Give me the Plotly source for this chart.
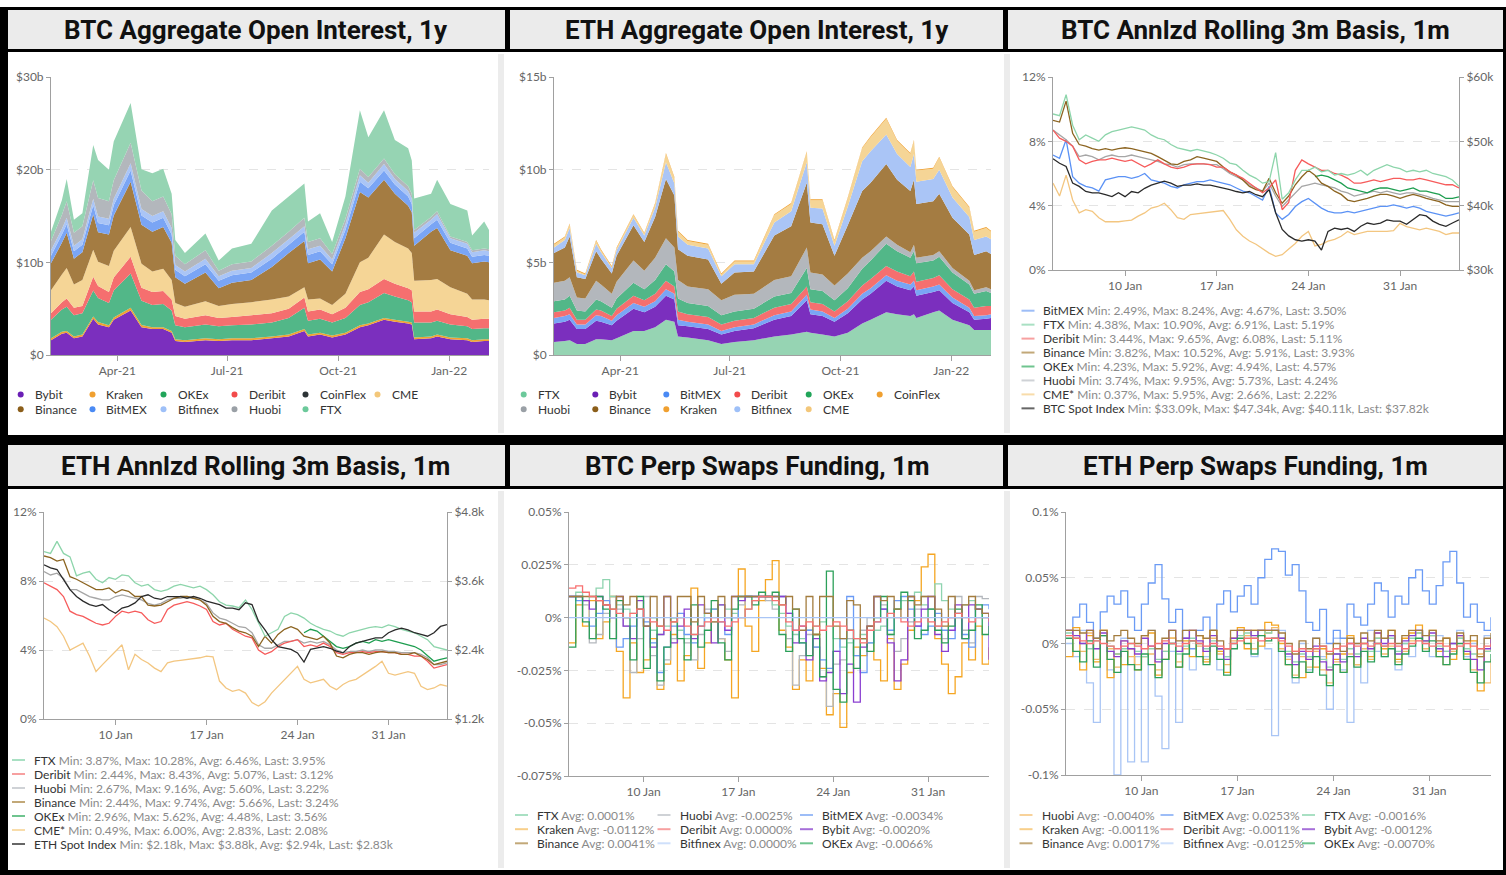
import plotly.graph_objects as go
import pandas as pd

W, H = 1506, 875

# ======================= DATA =======================
# ---- Aggregate open interest ($b), 1y ----
oi_dates = ["2021-02-05", "2021-02-14", "2021-02-18", "2021-02-24", "2021-03-03", "2021-03-12",
            "2021-03-16", "2021-03-25", "2021-03-29", "2021-04-12", "2021-04-21", "2021-04-30",
            "2021-05-09", "2021-05-16", "2021-05-19", "2021-05-27", "2021-06-13", "2021-06-24",
            "2021-07-05", "2021-07-21", "2021-08-07", "2021-08-21", "2021-09-03", "2021-09-06",
            "2021-09-16", "2021-09-26", "2021-10-07", "2021-10-19", "2021-10-26", "2021-11-08",
            "2021-11-17", "2021-11-28", "2021-12-01", "2021-12-03", "2021-12-17", "2021-12-22",
            "2022-01-02", "2022-01-16", "2022-01-20", "2022-01-30", "2022-02-03"]

btc_oi_bybit = [1.6, 2.3, 2.4, 1.8, 2.0, 3.9, 3.3, 3.0, 3.8, 4.8, 3.0, 2.8, 2.8, 2.4, 1.5, 1.4, 1.6, 1.5, 1.6, 1.6,
                1.8, 2.0, 2.6, 2.0, 2.2, 1.9, 2.2, 3.0, 3.2, 3.8, 3.6, 3.4, 3.3, 1.7, 1.8, 2.0, 1.7, 1.6, 1.4, 1.5, 1.5]
btc_oi_kraken = [0.2, 0.2, 0.2, 0.2, 0.2, 0.25, 0.25, 0.2, 0.25, 0.3, 0.25, 0.2, 0.2, 0.2, 0.2, 0.2, 0.2, 0.2, 0.2, 0.2,
                 0.2, 0.2, 0.2, 0.2, 0.2, 0.2, 0.2, 0.2, 0.2, 0.2, 0.2, 0.2, 0.2, 0.2, 0.2, 0.2, 0.2, 0.2, 0.2, 0.2, 0.2]
btc_oi_okex = [2.0, 2.4, 2.6, 2.3, 2.3, 2.8, 2.6, 2.4, 2.9, 3.7, 2.6, 2.4, 2.5, 2.2, 1.5, 1.4, 1.5, 1.4, 1.4, 1.5,
               1.5, 1.8, 2.3, 1.5, 1.5, 1.4, 1.6, 2.2, 2.3, 2.7, 2.5, 2.3, 2.2, 1.6, 1.5, 1.5, 1.4, 1.3, 1.2, 1.2, 1.2]
btc_oi_deribit = [0.7, 0.8, 0.9, 0.8, 0.8, 1.5, 1.3, 1.2, 1.4, 1.8, 1.4, 1.4, 1.4, 1.2, 1.0, 0.9, 1.0, 0.9, 0.9, 1.0,
                  1.0, 1.0, 1.1, 1.0, 1.0, 0.9, 1.1, 1.4, 1.4, 1.5, 1.4, 1.3, 1.3, 1.2, 1.2, 1.2, 1.1, 1.0, 1.0, 1.0, 1.0]
btc_oi_cme = [2.5, 3.0, 3.3, 2.5, 2.8, 2.9, 2.6, 2.8, 2.9, 3.2, 2.6, 2.2, 2.4, 2.1, 1.4, 1.3, 1.5, 1.3, 1.4, 1.4,
              1.5, 1.3, 1.1, 1.3, 1.2, 1.0, 1.5, 3.2, 3.4, 4.8, 4.5, 4.3, 4.0, 3.3, 3.4, 3.3, 2.9, 2.5, 2.2, 2.1, 2.0]
btc_oi_binance = [2.9, 3.4, 3.8, 2.8, 3.0, 3.8, 3.2, 3.4, 3.8, 4.9, 4.2, 4.3, 4.5, 4.0, 2.8, 2.5, 3.1, 1.9, 2.3, 2.4,
                  3.5, 4.7, 5.0, 3.9, 4.2, 3.6, 6.0, 7.6, 6.5, 5.9, 5.2, 4.6, 4.4, 3.8, 5.2, 5.5, 4.0, 4.1, 3.9, 4.1, 4.1]
btc_oi_bitmex = [0.8, 0.9, 0.9, 0.8, 0.8, 1.0, 1.0, 1.0, 1.1, 1.2, 1.0, 1.0, 1.0, 0.9, 0.8, 0.8, 0.9, 0.8, 0.8, 0.8,
                 0.9, 0.9, 1.0, 0.9, 0.9, 0.8, 0.9, 1.1, 1.0, 1.0, 1.0, 1.0, 0.9, 0.8, 0.8, 0.9, 0.8, 0.8, 0.7, 0.7, 0.7]
btc_oi_bitfinex = [0.6, 0.6, 0.7, 0.6, 0.6, 0.7, 0.7, 0.7, 0.7, 0.8, 0.7, 0.7, 0.7, 0.7, 0.5, 0.5, 0.6, 0.5, 0.5, 0.5,
                   0.6, 0.6, 0.6, 0.6, 0.6, 0.5, 0.6, 0.7, 0.6, 0.7, 0.6, 0.6, 0.6, 0.6, 0.5, 0.6, 0.5, 0.5, 0.5, 0.5, 0.5]
btc_oi_huobi = [1.0, 1.5, 1.8, 1.4, 1.4, 2.0, 2.0, 1.9, 2.0, 2.2, 2.0, 1.6, 1.6, 1.5, 1.0, 0.8, 0.9, 0.6, 0.7, 0.7,
                0.8, 0.8, 0.9, 0.8, 0.8, 0.6, 0.6, 0.7, 0.6, 0.6, 0.5, 0.5, 0.5, 0.3, 0.3, 0.3, 0.2, 0.2, 0.2, 0.2, 0.2]
btc_oi_ftx = [1.0, 1.6, 2.4, 1.4, 1.4, 3.8, 4.1, 3.4, 4.2, 4.3, 2.3, 3.0, 3.0, 2.2, 1.7, 1.2, 1.8, 1.1, 1.7, 1.9,
              3.8, 3.8, 3.7, 2.2, 2.7, 1.3, 2.4, 6.3, 4.3, 5.2, 3.7, 4.1, 3.6, 3.4, 2.5, 3.4, 3.5, 3.4, 1.6, 2.9, 2.1]

eth_oi_ftx = [0.7, 0.75, 0.8, 0.6, 0.6, 0.85, 0.85, 0.8, 0.9, 1.3, 1.3, 1.5, 1.9, 1.8, 1.0, 0.95, 0.8, 0.6, 0.7, 0.8,
              1.0, 1.1, 1.25, 1.2, 1.1, 1.0, 1.2, 1.7, 1.9, 2.3, 2.2, 2.1, 2.2, 2.0, 2.3, 2.4, 1.9, 1.6, 1.35, 1.35, 1.35]
eth_oi_bybit = [1.0, 1.05, 1.1, 0.8, 0.8, 1.0, 0.95, 0.8, 0.95, 1.2, 1.0, 1.1, 1.3, 1.2, 0.6, 0.6, 0.6, 0.5, 0.6, 0.65,
                0.9, 1.0, 1.7, 1.0, 1.0, 0.8, 1.05, 1.3, 1.4, 1.7, 1.5, 1.4, 1.5, 1.2, 1.1, 1.1, 0.9, 0.7, 0.55, 0.6, 0.65]
eth_oi_bitmex = [0.3, 0.3, 0.3, 0.25, 0.25, 0.3, 0.3, 0.25, 0.3, 0.3, 0.3, 0.3, 0.35, 0.3, 0.3, 0.25, 0.25, 0.2, 0.2, 0.2,
                 0.25, 0.25, 0.3, 0.25, 0.25, 0.2, 0.25, 0.3, 0.3, 0.3, 0.3, 0.3, 0.3, 0.3, 0.3, 0.3, 0.3, 0.25, 0.2, 0.2, 0.2]
eth_oi_deribit = [0.3, 0.3, 0.35, 0.25, 0.25, 0.3, 0.3, 0.25, 0.35, 0.4, 0.35, 0.4, 0.45, 0.4, 0.45, 0.4, 0.4, 0.35, 0.35, 0.35,
                  0.4, 0.4, 0.45, 0.4, 0.4, 0.35, 0.4, 0.45, 0.5, 0.5, 0.5, 0.45, 0.5, 0.45, 0.45, 0.5, 0.45, 0.45, 0.45, 0.5, 0.45]
eth_oi_okex = [0.6, 0.6, 0.65, 0.5, 0.45, 0.55, 0.5, 0.45, 0.55, 0.7, 0.6, 0.75, 0.9, 0.8, 0.7, 0.6, 0.6, 0.5, 0.5, 0.5,
               0.6, 0.6, 1.0, 0.7, 0.7, 0.6, 0.7, 0.9, 1.0, 1.2, 1.1, 1.0, 1.1, 1.0, 0.95, 1.0, 0.9, 0.8, 0.75, 0.8, 0.7]
eth_oi_huobi = [1.0, 1.0, 1.0, 0.7, 0.7, 1.0, 0.9, 0.75, 0.9, 1.2, 1.0, 1.2, 1.4, 1.3, 1.0, 0.9, 0.9, 0.8, 0.9, 0.8,
                0.9, 0.9, 1.1, 0.9, 0.9, 0.8, 0.8, 0.6, 0.5, 0.4, 0.35, 0.3, 0.35, 0.3, 0.3, 0.3, 0.25, 0.2, 0.2, 0.2, 0.2]
eth_oi_binance = [1.6, 1.8, 2.2, 1.1, 1.05, 1.6, 1.4, 1.1, 1.4, 1.9, 1.55, 2.2, 3.2, 2.8, 1.65, 1.65, 1.6, 0.9, 1.2, 1.2,
                  2.4, 2.7, 3.5, 2.7, 2.7, 1.6, 2.6, 3.6, 3.7, 3.9, 3.5, 3.3, 3.5, 2.9, 2.9, 3.1, 2.7, 2.5, 1.9, 1.95, 1.9]
eth_oi_bitfinex = [0.3, 0.4, 0.45, 0.25, 0.2, 0.4, 0.35, 0.3, 0.3, 0.4, 0.35, 0.5, 0.9, 0.65, 0.7, 0.6, 0.6, 0.4, 0.45, 0.4,
                   0.7, 0.8, 1.1, 0.8, 0.85, 0.55, 1.0, 1.6, 1.7, 1.6, 1.4, 1.3, 1.4, 1.2, 1.2, 1.3, 1.1, 0.95, 0.8, 0.8, 0.8]
eth_oi_cme = [0.15, 0.15, 0.2, 0.1, 0.05, 0.15, 0.1, 0.05, 0.1, 0.15, 0.1, 0.2, 0.45, 0.3, 0.25, 0.2, 0.2, 0.1, 0.15, 0.15,
              0.4, 0.4, 0.55, 0.4, 0.45, 0.25, 0.45, 0.7, 0.75, 0.85, 0.7, 0.7, 0.7, 0.6, 0.55, 0.65, 0.55, 0.5, 0.45, 0.45, 0.4]
eth_oi_kraken = [0.05, 0.05, 0.05, 0.05, 0.05, 0.05, 0.05, 0.05, 0.05, 0.05, 0.05, 0.05, 0.05, 0.05, 0.05, 0.05, 0.05, 0.05, 0.05, 0.05,
                 0.05, 0.05, 0.05, 0.05, 0.05, 0.05, 0.05, 0.05, 0.05, 0.05, 0.05, 0.05, 0.05, 0.05, 0.05, 0.05, 0.05, 0.05, 0.05, 0.05, 0.05]

# ---- 12-hourly series, 4 Jan 12:00 -> 4 Feb 12:00 ----
t12 = pd.date_range("2022-01-04 12:00", periods=63, freq="12h")

# Annualised rolling 3m basis (%), spot index ($k)
btc_basis_bitmex = [7.15, 6.95, 8.1, 5.8, 5.4, 5.2, 5.1, 4.9, 5.6, 5.7,
                    5.8, 5.8, 5.7, 5.8, 6.0, 5.6, 5.5, 5.4, 5.2, 5.1,
                    5.3, 5.4, 5.5, 5.5, 5.6, 5.5, 5.4, 5.3, 5.1, 4.9,
                    4.8, 4.6, 4.35, 5.2, 3.55, 3.15, 3.45, 3.95, 4.25, 4.45,
                    4.15, 3.85, 3.65, 3.55, 3.55, 3.65, 3.55, 3.65, 3.75, 3.85,
                    3.95, 3.95, 4.05, 3.95, 3.85, 3.95, 3.85, 3.65, 3.55, 3.45,
                    3.35, 3.45, 3.55]
btc_basis_ftx = [9.7, 9.6, 10.9, 9.0, 8.1, 8.4, 8.2, 8.0, 8.4, 8.6,
                 8.7, 8.8, 8.9, 8.8, 8.7, 8.4, 8.2, 8.1, 7.8, 7.6,
                 7.5, 7.4, 7.5, 7.4, 7.3, 7.15, 6.95, 6.65, 6.55, 6.2,
                 5.9, 5.7, 5.4, 5.5, 7.3, 4.4, 4.8, 5.6, 6.2, 6.2,
                 6.4, 6.1, 6.2, 5.9, 6.0, 5.9, 6.0, 6.2, 5.9, 6.2,
                 6.4, 6.55, 6.4, 6.3, 6.1, 6.2, 6.1, 6.2, 6.0, 5.9,
                 5.8, 5.6, 5.2]
btc_basis_deribit = [8.7, 8.2, 8.0, 7.7, 6.85, 6.6, 6.75, 6.85, 6.85, 6.95,
                     6.85, 6.75, 6.85, 6.6, 6.4, 6.6, 6.85, 6.6, 6.4, 6.3,
                     6.4, 6.55, 6.6, 6.6, 6.55, 6.4, 6.4, 6.1, 5.9, 5.7,
                     5.4, 5.1, 4.8, 5.1, 5.6, 3.75, 4.2, 6.2, 6.85, 6.6,
                     6.4, 6.2, 6.2, 6.0, 5.9, 5.7, 5.4, 5.4, 5.5, 5.6,
                     5.5, 5.6, 5.7, 5.7, 5.6, 5.6, 5.7, 5.6, 5.5, 5.4,
                     5.3, 5.3, 5.1]
btc_basis_binance = [9.3, 9.2, 10.5, 8.5, 7.8, 7.7, 7.55, 7.45, 7.55, 7.45,
                     7.55, 7.6, 7.55, 7.45, 7.35, 7.25, 7.05, 6.85, 6.6, 6.55,
                     6.75, 6.85, 7.05, 6.95, 6.85, 6.75, 6.4, 6.1, 5.9, 5.6,
                     5.2, 5.0, 4.9, 5.7, 4.8, 4.15, 4.6, 5.3, 5.8, 6.2,
                     5.9, 5.4, 5.2, 4.9, 4.7, 4.35, 4.25, 4.35, 4.45, 4.6,
                     4.7, 4.7, 4.6, 4.45, 4.6, 4.7, 4.6, 4.45, 4.35, 4.25,
                     4.05, 3.95, 3.95]
btc_basis_okex = [5.8, 5.9, 5.8, 5.6, 5.4, 5.1, 5.0, 4.9, 4.8, 5.0,
                  5.1, 5.1, 5.0, 4.9, 5.0, 5.1, 4.9, 4.9, 4.8, 4.7,
                  4.45, 4.45, 4.55]
btc_basis_huobi = [8.7, 8.4, 8.1, 7.7, 7.05, 7.15, 7.05, 6.85, 7.05, 7.15,
                   7.05, 7.05, 7.15, 7.05, 6.95, 6.85, 6.75, 6.6, 6.55, 6.4,
                   6.55, 6.6, 6.6, 6.6, 6.55, 6.55, 6.3, 6.0, 5.8, 5.6,
                   5.3, 5.1, 4.9, 5.4, 4.6, 3.95, 4.35, 4.8, 5.2, 5.3,
                   5.4, 5.3, 5.2, 5.1, 4.9, 4.8, 4.6, 4.7, 4.8, 4.9,
                   4.8, 4.9, 4.8, 4.7, 4.8, 4.8, 4.7, 4.6, 4.45, 4.35,
                   4.25, 4.25, 4.25]
btc_basis_cme = [5.4, 4.6, 5.9, 4.35, 3.55, 3.75, 3.65, 3.25, 3.0, 3.0,
                 3.0, 3.05, 3.1, 3.35, 3.55, 3.85, 3.95, 4.15, 3.75, 3.25,
                 3.15, 3.45, 3.5, 3.55, 3.6, 3.65, 3.7, 3.15, 2.5, 2.1,
                 1.8, 1.6, 1.3, 1.05, 0.85, 0.95, 1.3, 1.65, 2.1, 2.4,
                 1.5, 1.6, 1.8, 1.9, 2.1, 2.4, 2.2, 2.3, 2.4, 2.4,
                 2.4, 2.4, 2.45, 2.9, 2.7, 2.6, 2.5, 2.6, 2.5, 2.4,
                 2.2, 2.3, 2.3]
btc_spot = [47.3, 46.6, 46.1, 43.5, 43.0, 42.2, 42.0, 42.0, 41.7, 41.4,
            42.0, 41.4, 42.2, 42.0, 42.7, 43.2, 43.5, 43.8, 43.5, 43.0,
            43.2, 43.2, 43.4, 43.2, 43.2, 43.0, 42.7, 42.5, 42.2, 42.0,
            42.2, 41.7, 41.4, 42.5, 38.9, 36.3, 35.3, 34.7, 34.5, 34.7,
            34.5, 33.1, 36.0, 36.5, 36.3, 36.5, 36.0, 36.8, 37.3, 37.1,
            37.3, 37.8, 37.6, 37.6, 37.1, 37.8, 38.6, 38.4, 37.6, 37.1,
            36.8, 37.3, 37.8]

eth_basis_ftx = [9.7, 9.6, 10.3, 9.6, 9.4, 8.3, 8.45, 8.55, 8.1, 7.9,
                 8.2, 8.1, 8.35, 8.3, 7.9, 7.7, 7.8, 7.5, 7.4, 7.5,
                 7.7, 7.8, 7.7, 7.6, 7.7, 7.5, 7.2, 6.8, 6.6, 6.55,
                 6.45, 6.9, 6.35, 5.55, 4.8, 5.0, 5.2, 5.95, 6.15, 6.05,
                 5.85, 5.55, 5.35, 5.2, 5.1, 4.9, 4.8, 5.0, 5.1, 5.2,
                 5.3, 5.35, 5.3, 5.45, 5.35, 5.2, 5.1, 5.0, 4.8, 4.6,
                 4.2, 4.1, 4.0]
eth_basis_deribit = [7.9, 7.7, 7.5, 7.1, 6.25, 6.05, 5.95, 5.75, 5.55, 5.45,
                     5.55, 5.95, 6.25, 6.15, 6.25, 6.15, 5.75, 5.55, 5.65, 6.35,
                     6.6, 6.7, 6.8, 6.7, 6.55, 6.35, 5.65, 5.45, 5.55, 5.2,
                     5.0, 4.8, 4.7, 4.0, 3.75, 3.9, 4.2, 4.4, 4.5, 4.6,
                     4.2, 4.3, 4.2, 4.4, 4.2, 3.85, 3.75, 3.85, 3.85, 3.9,
                     3.85, 3.9, 3.9, 3.85, 3.85, 3.75, 3.75, 3.65, 3.65, 3.35,
                     2.95, 3.05, 3.15]
eth_basis_huobi = [8.55, 8.35, 8.45, 8.15, 7.5, 7.5, 7.3, 7.1, 7.0, 6.9,
                   6.9, 7.1, 7.2, 7.1, 7.0, 6.9, 6.7, 6.6, 6.7, 6.9,
                   7.0, 7.0, 7.1, 7.0, 6.9, 6.7, 6.15, 5.85, 5.75, 5.55,
                   5.35, 5.3, 5.0, 4.3, 4.1, 4.1, 4.3, 4.5, 4.5, 4.6,
                   4.4, 4.5, 4.4, 4.5, 4.3, 4.0, 3.85, 3.9, 3.9, 4.0,
                   3.9, 4.0, 4.0, 3.9, 3.9, 3.85, 3.85, 3.85, 3.75, 3.55,
                   3.15, 3.15, 3.25]
eth_basis_binance = [9.45, 9.35, 9.15, 9.25, 8.25, 8.1, 7.9, 7.7, 7.5, 7.5,
                     7.6, 7.3, 7.5, 7.4, 7.1, 7.1, 6.6, 6.55, 6.6, 6.8,
                     7.0, 7.1, 7.1, 7.0, 6.9, 6.6, 5.95, 5.65, 5.55, 5.3,
                     5.1, 5.0, 4.8, 4.2, 4.8, 4.4, 4.9, 5.2, 5.35, 5.2,
                     4.8, 4.7, 4.6, 4.8, 4.4, 3.65, 3.55, 3.75, 3.85, 3.85,
                     3.75, 3.85, 3.9, 3.85, 3.85, 3.75, 3.75, 3.85, 3.65, 3.45,
                     3.15, 3.25, 3.35]
eth_basis_okex = [5.0, 5.2, 5.1, 4.8, 4.5, 4.2, 4.1, 4.2, 4.4, 4.5,
                  4.4, 4.6, 4.5, 4.6, 4.5, 4.4, 4.3, 4.2, 4.0, 3.65,
                  3.35, 3.45, 3.55]
eth_basis_cme = [5.85, 5.65, 5.35, 4.8, 4.0, 4.2, 4.4, 3.65, 2.75, 3.15,
                 3.55, 3.9, 4.3, 2.85, 3.75, 3.45, 3.25, 2.95, 2.75, 3.25,
                 3.35, 3.4, 3.45, 3.5, 3.55, 3.65, 3.6, 2.2, 1.8, 1.6,
                 1.7, 1.5, 0.95, 0.75, 1.0, 1.5, 1.9, 2.3, 2.65, 3.05,
                 2.3, 2.1, 2.2, 2.3, 1.9, 1.7, 2.0, 2.2, 2.3, 2.55,
                 2.75, 3.05, 3.35, 2.65, 2.55, 2.65, 2.75, 2.65, 1.9, 1.7,
                 1.8, 2.0, 1.9]
eth_spot = [3.88, 3.83, 3.80, 3.62, 3.45, 3.33, 3.25, 3.19, 3.16, 3.19,
            3.10, 3.04, 3.13, 3.16, 3.22, 3.33, 3.36, 3.30, 3.28, 3.33,
            3.33, 3.33, 3.30, 3.33, 3.30, 3.25, 3.22, 3.19, 3.13, 3.13,
            3.10, 3.22, 3.19, 2.90, 2.75, 2.58, 2.46, 2.43, 2.41, 2.35,
            2.19, 2.41, 2.43, 2.46, 2.43, 2.38, 2.35, 2.46, 2.52, 2.55,
            2.58, 2.61, 2.61, 2.70, 2.75, 2.78, 2.75, 2.70, 2.67, 2.64,
            2.70, 2.81, 2.84]

# Perp swap funding rates (%)
btc_fund_ftx = [0.010, 0.012, 0.008, 0.010, 0.014, 0.018, 0.010, 0.006, 0.004, 0.002,
                0.000, -0.004, -0.006, -0.008, -0.004, 0.000, -0.006, -0.010, -0.008, -0.004,
                0.002, 0.004, 0.006, 0.004, 0.002, 0.000, 0.004, 0.008, 0.010, 0.010,
                0.006, 0.002, -0.004, -0.008, -0.010, -0.006, -0.004, -0.002, 0.000, -0.010,
                -0.014, -0.012, -0.010, -0.008, -0.012, -0.006, -0.004, 0.000, 0.004, 0.008,
                0.010, 0.012, 0.006, 0.004, 0.016, 0.008, 0.004, 0.002, 0.006, 0.008,
                0.004, 0.000, -0.004]
btc_fund_huobi = [0.010, 0.010, 0.006, -0.012, -0.008, 0.002, 0.010, 0.004, -0.004, -0.026,
                  -0.010, 0.010, -0.018, -0.032, -0.020, -0.010, 0.000, -0.012, -0.020, -0.008,
                  0.004, -0.002, -0.010, -0.016, 0.000, 0.006, 0.010, 0.010, 0.010, 0.008,
                  0.004, 0.010, -0.010, -0.032, -0.018, -0.008, -0.014, -0.028, -0.042, -0.022,
                  -0.020, -0.010, -0.018, -0.006, 0.000, 0.010, 0.006, -0.008, -0.016, -0.010,
                  -0.002, 0.004, 0.010, 0.004, -0.004, -0.010, 0.000, 0.010, -0.006, -0.012,
                  0.010, 0.009, 0.009]
btc_fund_bitmex = [0.010, 0.008, 0.000, -0.004, 0.002, 0.008, 0.000, -0.014, -0.010, -0.004,
                   0.004, -0.002, -0.012, -0.026, -0.014, -0.004, 0.002, -0.008, -0.012, -0.004,
                   0.000, 0.004, -0.002, -0.008, 0.000, 0.010, 0.010, 0.010, 0.010, 0.010,
                   0.010, 0.010, 0.002, -0.006, -0.012, -0.006, -0.014, -0.020, -0.024, -0.016,
                   -0.010, 0.010, -0.018, -0.026, -0.012, -0.002, 0.004, -0.006, 0.008, 0.010,
                   0.004, -0.004, -0.008, -0.004, 0.002, -0.006, -0.010, 0.002, -0.008, -0.014,
                   0.004, 0.006, 0.004]
btc_fund_kraken = [-0.012, 0.006, -0.004, 0.008, -0.010, -0.002, 0.010, -0.016, -0.038, -0.012,
                   -0.026, -0.020, -0.010, -0.034, -0.022, -0.008, -0.030, -0.018, 0.014, -0.024,
                   -0.012, 0.004, -0.010, -0.020, -0.038, 0.023, -0.004, -0.016, 0.008, 0.018,
                   0.027, -0.006, -0.014, -0.034, -0.020, -0.030, -0.008, -0.024, -0.046, -0.036,
                   -0.052, -0.026, -0.014, -0.018, -0.004, -0.020, -0.030, -0.010, -0.034, -0.022,
                   -0.006, 0.008, 0.024, 0.030, -0.010, -0.022, -0.036, -0.028, -0.012, -0.020,
                   -0.004, -0.022, -0.014]
btc_fund_deribit = [0.014, 0.015, 0.012, 0.010, 0.008, 0.006, 0.004, 0.002, 0.000, 0.002,
                    0.004, 0.000, -0.002, -0.004, -0.006, -0.002, 0.000, -0.004, -0.008, -0.004,
                    -0.002, 0.000, -0.002, -0.004, -0.002, 0.000, 0.004, 0.008, 0.010, 0.010,
                    0.008, 0.006, -0.002, -0.006, -0.004, -0.002, -0.004, -0.006, -0.004, -0.002,
                    -0.004, -0.006, -0.010, -0.012, -0.006, -0.002, 0.000, 0.002, 0.000, -0.002,
                    -0.004, -0.002, 0.000, -0.002, -0.004, -0.002, 0.000, 0.002, 0.000, -0.002,
                    0.000, 0.000, -0.002]
btc_fund_bybit = [0.010, 0.010, 0.008, 0.004, 0.010, 0.006, 0.000, 0.010, -0.004, -0.010,
                  0.008, -0.004, -0.014, -0.008, 0.010, -0.012, -0.004, 0.004, -0.010, 0.006,
                  0.002, -0.012, 0.006, -0.006, 0.010, 0.008, 0.010, 0.010, 0.010, 0.010,
                  0.010, 0.010, 0.002, -0.012, -0.004, -0.020, -0.010, -0.030, -0.026, -0.016,
                  -0.036, -0.022, -0.040, -0.014, -0.004, 0.010, 0.004, -0.012, -0.030, -0.020,
                  0.010, -0.004, 0.004, 0.010, -0.008, -0.016, -0.006, 0.006, -0.010, 0.006,
                  0.004, 0.002, -0.020]
btc_fund_okex = [-0.014, 0.010, -0.002, -0.010, 0.010, 0.004, -0.010, 0.008, 0.000, -0.020,
                 0.010, -0.024, 0.000, -0.030, -0.014, 0.000, -0.010, -0.020, 0.006, -0.014,
                 -0.006, 0.008, -0.012, -0.020, 0.004, 0.010, 0.010, 0.006, 0.012, 0.010,
                 0.012, -0.008, -0.016, 0.004, -0.012, -0.018, -0.008, -0.028, 0.022, -0.034,
                 -0.040, -0.006, -0.024, -0.010, -0.016, 0.000, 0.010, -0.008, 0.004, 0.012,
                 0.008, -0.010, -0.006, 0.004, -0.006, -0.012, -0.004, 0.004, -0.010, -0.006,
                 0.006, -0.008, -0.004]
btc_fund_binance = [0.010, 0.010, 0.010, 0.010, 0.008, 0.006, 0.004, 0.010, 0.006, 0.010,
                    0.004, -0.004, 0.010, -0.004, 0.010, -0.002, 0.010, 0.010, -0.002, 0.010,
                    0.002, -0.002, 0.010, 0.000, 0.010, 0.010, 0.010, 0.010, 0.010, 0.010,
                    0.010, 0.006, 0.010, 0.004, -0.006, 0.010, -0.008, 0.010, 0.010, -0.004,
                    -0.010, 0.008, 0.006, -0.010, -0.004, 0.010, 0.008, 0.010, 0.004, 0.000,
                    0.010, 0.006, 0.010, 0.010, 0.004, -0.004, 0.010, 0.000, 0.006, 0.010,
                    0.004, 0.002, 0.000]
btc_fund_bitfinex = [0.000, 0.000, 0.000, 0.000, 0.000, 0.000, 0.000, 0.000, 0.000, 0.000,
                     0.000, 0.000, 0.000, 0.000, 0.000, 0.000, 0.000, 0.000, 0.000, 0.000,
                     0.000, 0.000, 0.000, 0.000, 0.000, 0.000, 0.000, 0.000, 0.000, 0.000,
                     0.000, 0.000, 0.000, 0.000, 0.000, 0.000, 0.000, 0.000, 0.000, 0.000,
                     0.000, 0.000, 0.000, 0.000, 0.000, 0.000, 0.000, 0.000, 0.000, 0.000,
                     0.000, 0.000, 0.000, 0.000, 0.000, 0.000, 0.000, 0.000, 0.000, 0.000,
                     0.000, 0.000, 0.000]

eth_fund_huobi = [0.010, 0.004, -0.006, 0.008, -0.012, 0.010, -0.004, -0.018, 0.002, -0.010,
                  -0.016, 0.006, -0.008, -0.020, -0.006, 0.004, -0.014, -0.004, 0.010, -0.002,
                  -0.012, 0.004, -0.008, -0.016, 0.002, 0.010, 0.006, -0.004, 0.010, 0.008,
                  0.012, -0.004, -0.012, -0.024, -0.010, -0.018, -0.006, -0.020, -0.030, -0.014,
                  -0.022, -0.008, -0.016, -0.004, -0.012, 0.004, -0.008, -0.002, -0.014, -0.006,
                  0.002, 0.008, -0.004, 0.006, -0.010, -0.016, -0.006, 0.004, -0.012, -0.020,
                  -0.008, -0.030, -0.012]
eth_fund_kraken = [-0.010, 0.012, -0.020, 0.006, -0.014, 0.010, -0.026, -0.008, -0.016, -0.004,
                   -0.020, -0.010, 0.008, -0.024, -0.012, 0.004, -0.018, 0.002, -0.010, 0.006,
                   -0.014, 0.010, -0.006, -0.022, 0.004, 0.012, -0.004, 0.010, -0.002, 0.016,
                   0.014, 0.000, -0.016, -0.006, -0.026, -0.010, -0.018, -0.004, -0.020, -0.012,
                   -0.008, 0.006, -0.016, 0.000, -0.010, 0.008, -0.004, 0.010, -0.012, 0.004,
                   0.008, 0.014, 0.002, 0.010, -0.006, 0.004, -0.012, 0.006, -0.008, 0.002,
                   -0.036, -0.006, 0.004]
eth_fund_binance = [0.010, 0.010, 0.008, 0.010, 0.004, 0.010, 0.002, 0.006, 0.010, 0.004,
                    0.000, 0.006, 0.010, -0.004, 0.004, 0.010, 0.002, 0.010, 0.010, 0.006,
                    0.004, 0.010, 0.002, -0.004, 0.010, 0.010, 0.010, 0.010, 0.010, 0.010,
                    0.010, 0.008, 0.000, -0.008, 0.002, -0.004, 0.004, -0.002, -0.008, 0.000,
                    -0.006, 0.004, 0.000, 0.008, 0.002, 0.010, 0.004, 0.010, 0.000, 0.006,
                    0.010, 0.010, 0.006, 0.010, 0.002, 0.004, -0.004, 0.008, 0.002, 0.006,
                    -0.010, 0.004, 0.008]
eth_fund_bitmex = [0.010, 0.020, 0.030, 0.016, 0.004, 0.024, 0.036, 0.030, 0.040, 0.020,
                   0.010, 0.030, 0.046, 0.060, 0.034, 0.016, 0.026, 0.004, -0.004, 0.010,
                   0.020, 0.010, 0.030, 0.040, 0.024, 0.036, 0.044, 0.030, 0.050, 0.064,
                   0.072, 0.070, 0.052, 0.060, 0.040, 0.016, 0.010, 0.026, 0.000, 0.010,
                   0.004, 0.030, 0.020, 0.014, 0.030, 0.046, 0.040, 0.020, 0.036, 0.030,
                   0.050, 0.056, 0.040, 0.030, 0.044, 0.062, 0.070, 0.046, 0.020, 0.030,
                   0.016, 0.010, 0.020]
eth_fund_deribit = [0.006, 0.004, 0.002, 0.000, 0.002, 0.000, -0.002, -0.004, -0.002, 0.000,
                    -0.002, -0.004, -0.002, 0.000, 0.002, 0.000, -0.002, 0.000, 0.002, 0.000,
                    -0.002, 0.000, -0.002, -0.004, 0.000, 0.002, 0.004, 0.004, 0.002, 0.004,
                    0.004, 0.002, -0.002, -0.006, -0.004, -0.006, -0.004, -0.002, -0.006, -0.004,
                    -0.002, 0.000, -0.002, 0.000, -0.002, 0.000, -0.002, 0.000, -0.002, -0.004,
                    0.000, 0.002, 0.000, -0.002, 0.000, -0.002, -0.004, -0.002, 0.000, -0.002,
                    -0.004, -0.002, 0.000]
eth_fund_bitfinex = [0.000, -0.010, 0.010, -0.030, -0.060, 0.006, -0.020, -0.100, 0.004, -0.090,
                     -0.010, -0.090, 0.010, -0.040, -0.080, -0.006, -0.060, 0.010, -0.020, 0.000,
                     -0.010, 0.010, -0.020, -0.010, 0.000, 0.010, 0.006, -0.010, 0.010, -0.004,
                     -0.070, 0.010, -0.010, -0.030, 0.000, -0.020, 0.004, -0.010, -0.050, 0.004,
                     -0.020, -0.060, 0.000, -0.030, 0.010, -0.006, -0.010, 0.006, -0.020, 0.000,
                     -0.010, 0.010, 0.000, -0.010, 0.006, -0.006, 0.000, 0.010, -0.010, 0.000,
                     -0.004, 0.006, 0.000]
eth_fund_ftx = [0.008, 0.004, 0.000, -0.004, 0.002, 0.006, -0.002, -0.008, -0.004, 0.000,
                -0.006, -0.010, -0.004, -0.012, -0.006, 0.000, -0.008, -0.002, 0.004, 0.000,
                -0.004, 0.002, -0.004, -0.010, 0.000, 0.006, 0.008, 0.004, 0.010, 0.008,
                0.010, 0.004, -0.006, -0.014, -0.008, -0.010, -0.004, -0.012, -0.018, -0.008,
                -0.012, -0.004, -0.008, 0.000, -0.006, 0.004, -0.002, 0.004, -0.006, 0.000,
                0.004, 0.008, 0.002, 0.006, -0.002, -0.006, 0.000, 0.004, -0.004, -0.008,
                -0.010, -0.006, -0.002]
eth_fund_bybit = [0.010, 0.006, 0.000, 0.010, -0.004, 0.008, -0.006, -0.010, 0.002, -0.004,
                  -0.008, 0.004, -0.002, -0.014, 0.000, 0.010, -0.006, 0.004, 0.010, 0.002,
                  -0.006, 0.006, -0.004, -0.012, 0.004, 0.010, 0.010, 0.006, 0.010, 0.010,
                  0.010, 0.004, -0.008, -0.016, -0.006, -0.012, -0.002, -0.014, -0.020, -0.008,
                  -0.014, 0.000, -0.010, 0.004, -0.004, 0.008, 0.000, 0.006, -0.008, 0.002,
                  0.006, 0.010, 0.002, 0.008, -0.004, -0.010, 0.000, 0.006, -0.006, -0.012,
                  -0.020, -0.004, 0.004]
eth_fund_okex = [0.004, -0.006, -0.014, 0.002, -0.018, 0.006, -0.012, -0.022, -0.006, -0.016,
                 -0.020, -0.008, -0.016, -0.026, -0.012, 0.000, -0.018, -0.008, 0.002, -0.010,
                 -0.016, -0.002, -0.012, -0.024, -0.004, 0.004, 0.000, -0.008, 0.006, 0.002,
                 0.004, -0.006, -0.016, -0.026, -0.014, -0.022, -0.010, -0.024, -0.032, -0.016,
                 -0.022, -0.010, -0.018, -0.006, -0.014, 0.000, -0.010, -0.004, -0.016, -0.008,
                 -0.002, 0.004, -0.006, 0.002, -0.010, -0.016, -0.008, 0.000, -0.012, -0.022,
                 -0.030, -0.014, -0.008]

# ---- legend texts ----
btc_basis_stats = ["Min: 2.49%, Max: 8.24%, Avg: 4.67%, Last: 3.50%",
                   "Min: 4.38%, Max: 10.90%, Avg: 6.91%, Last: 5.19%",
                   "Min: 3.44%, Max: 9.65%, Avg: 6.08%, Last: 5.11%",
                   "Min: 3.82%, Max: 10.52%, Avg: 5.91%, Last: 3.93%",
                   "Min: 4.23%, Max: 5.92%, Avg: 4.94%, Last: 4.57%",
                   "Min: 3.74%, Max: 9.95%, Avg: 5.73%, Last: 4.24%",
                   "Min: 0.37%, Max: 5.95%, Avg: 2.66%, Last: 2.22%",
                   "Min: $33.09k, Max: $47.34k, Avg: $40.11k, Last: $37.82k"]
eth_basis_stats = ["Min: 3.87%, Max: 10.28%, Avg: 6.46%, Last: 3.95%",
                   "Min: 2.44%, Max: 8.43%, Avg: 5.07%, Last: 3.12%",
                   "Min: 2.67%, Max: 9.16%, Avg: 5.60%, Last: 3.22%",
                   "Min: 2.44%, Max: 9.74%, Avg: 5.66%, Last: 3.24%",
                   "Min: 2.96%, Max: 5.62%, Avg: 4.48%, Last: 3.56%",
                   "Min: 0.49%, Max: 6.00%, Avg: 2.83%, Last: 2.08%",
                   "Min: $2.18k, Max: $3.88k, Avg: $2.94k, Last: $2.83k"]
btc_fund_avgs = ["Avg: 0.0001%", "Avg: -0.0025%", "Avg: -0.0034%",
                 "Avg: -0.0112%", "Avg: 0.0000%", "Avg: -0.0020%",
                 "Avg: 0.0041%", "Avg: 0.0000%", "Avg: -0.0066%"]
eth_fund_avgs = ["Avg: -0.0040%", "Avg: 0.0253%", "Avg: -0.0016%",
                 "Avg: -0.0011%", "Avg: -0.0011%", "Avg: -0.0012%",
                 "Avg: 0.0017%", "Avg: -0.0125%", "Avg: -0.0070%"]

oi_tickvals = ["2021-04-01", "2021-07-01", "2021-10-01", "2022-01-01"]
oi_ticktext = ["Apr-21", "Jul-21", "Oct-21", "Jan-22"]
m_tickvals = ["2022-01-10", "2022-01-17", "2022-01-24", "2022-01-31"]
m_ticktext = ["10 Jan", "17 Jan", "24 Jan", "31 Jan"]


# ======================= STYLE =======================
def fx(p):  # page pixel x -> paper
    return p / W


def fy(p):  # page pixel y -> paper
    return 1 - p / H


C = dict(bybit="#7b2fbe", kraken="#f0a232", okex="#52b788", deribit="#f56f6f", coinflex="#2d3436",
         cme="#f5d596", binance="#a47c42", bitmex="#7aa5f5", bitfinex="#aac5f6", huobi="#b3b7bc",
         ftx="#96d4b3")
LINE = dict(bitmex="#5b92f5", ftx="#8dd5ab", deribit="#f65b5b", binance="#8c6420", okex="#1e9e50",
            huobi="#a6a6a6", cme="#f3c680", spot="#2a2a2a")
AXC = "#a0a0a0"
TF = dict(family="Lato", size=12, color="#666666")

fig = go.Figure()


def stack(ax, group, series):
    for vals, col in series:
        fig.add_trace(go.Scatter(x=oi_dates, y=vals, stackgroup=group, mode="none", fillcolor=col,
                                 xaxis=ax[0], yaxis=ax[1], hoverinfo="skip"))


stack(("x", "y"), "btc", [(btc_oi_bybit, C["bybit"]), (btc_oi_kraken, C["kraken"]), (btc_oi_okex, C["okex"]),
                          (btc_oi_deribit, C["deribit"]), (btc_oi_cme, C["cme"]), (btc_oi_binance, C["binance"]),
                          (btc_oi_bitmex, C["bitmex"]), (btc_oi_bitfinex, C["bitfinex"]),
                          (btc_oi_huobi, C["huobi"]), (btc_oi_ftx, C["ftx"])])
stack(("x2", "y2"), "eth", [(eth_oi_ftx, C["ftx"]), (eth_oi_bybit, C["bybit"]), (eth_oi_bitmex, C["bitmex"]),
                            (eth_oi_deribit, C["deribit"]), (eth_oi_okex, C["okex"]), (eth_oi_huobi, C["huobi"]),
                            (eth_oi_binance, C["binance"]), (eth_oi_bitfinex, C["bitfinex"]),
                            (eth_oi_cme, C["cme"]), (eth_oi_kraken, C["kraken"])])


def lines(ax, series, shape="linear", width=1.3):
    for vals, col in series:
        xs = t12[len(t12) - len(vals):]
        fig.add_trace(go.Scatter(x=xs, y=vals, mode="lines", line=dict(color=col, width=width, shape=shape),
                                 xaxis=ax[0], yaxis=ax[1], hoverinfo="skip"))


lines(("x3", "y3"), [(btc_basis_cme, LINE["cme"]), (btc_basis_bitmex, LINE["bitmex"]),
                     (btc_basis_huobi, LINE["huobi"]), (btc_basis_okex, LINE["okex"]),
                     (btc_basis_binance, LINE["binance"]), (btc_basis_deribit, LINE["deribit"]),
                     (btc_basis_ftx, LINE["ftx"])])
lines(("x3", "y7"), [(btc_spot, LINE["spot"])])
lines(("x4", "y4"), [(eth_basis_cme, LINE["cme"]), (eth_basis_huobi, LINE["huobi"]),
                     (eth_basis_deribit, LINE["deribit"]), (eth_basis_okex, LINE["okex"]),
                     (eth_basis_binance, LINE["binance"]), (eth_basis_ftx, LINE["ftx"])])
lines(("x4", "y8"), [(eth_spot, LINE["spot"])])

FC = dict(ftx="#8fd4b0", huobi="#b4b8bd", bitmex="#6b9bf5", kraken="#f5a623", deribit="#f87171",
          bybit="#8a3fd1", binance="#a47d3f", bitfinex="#a9c5f5", okex="#2ca05a", huobi_eth="#f3bb6a")
lines(("x5", "y5"), [(btc_fund_kraken, FC["kraken"]), (btc_fund_huobi, FC["huobi"]), (btc_fund_ftx, FC["ftx"]),
                     (btc_fund_bitmex, FC["bitmex"]), (btc_fund_bybit, FC["bybit"]), (btc_fund_okex, FC["okex"]),
                     (btc_fund_binance, FC["binance"]), (btc_fund_deribit, FC["deribit"]),
                     (btc_fund_bitfinex, FC["bitfinex"])], shape="hv", width=1.3)
lines(("x6", "y6"), [(eth_fund_bitfinex, FC["bitfinex"]), (eth_fund_bitmex, FC["bitmex"]),
                     (eth_fund_kraken, FC["kraken"]), (eth_fund_huobi, FC["huobi_eth"]), (eth_fund_ftx, FC["ftx"]),
                     (eth_fund_bybit, FC["bybit"]), (eth_fund_okex, FC["okex"]), (eth_fund_binance, FC["binance"]),
                     (eth_fund_deribit, FC["deribit"])], shape="hv", width=1.3)


# ======================= AXES =======================
def xax(l, r, rng, tv, tt, anchor):
    return dict(domain=[fx(l), fx(r)], range=rng, type="date", tickvals=tv, ticktext=tt, showline=True,
                linecolor=AXC, ticks="outside", ticklen=5, tickcolor=AXC, tickfont=TF, showgrid=False,
                zeroline=False, anchor=anchor, fixedrange=True, automargin=False)


def yax(top, bot, rng, tv, tt, anchor, side="left", grid=True, overlaying=None):
    d = dict(domain=[fy(bot), fy(top)], range=rng, tickvals=tv, ticktext=tt, showline=True, linecolor=AXC,
             ticks="outside", ticklen=4, tickcolor=AXC, tickfont=TF, showgrid=grid, gridcolor="#e4e4e4",
             griddash="dash", zeroline=False, anchor=anchor, side=side, fixedrange=True, automargin=False)
    if overlaying:
        d["overlaying"] = overlaying
    return d


oi_rng = ["2021-02-05", "2022-02-03"]
m_rng = ["2022-01-04 12:00", "2022-02-04 12:00"]
pct = lambda v: [f"{x:g}%" for x in v]

layout_axes = dict(
    xaxis=xax(51, 489, oi_rng, oi_tickvals, oi_ticktext, "y"),
    yaxis=yax(77, 355, [0, 30], [0, 10, 20, 30], ["$0", "$10b", "$20b", "$30b"], "x"),
    xaxis2=xax(554, 991, oi_rng, oi_tickvals, oi_ticktext, "y2"),
    yaxis2=yax(77, 355, [0, 15], [0, 5, 10, 15], ["$0", "$5b", "$10b", "$15b"], "x2"),
    xaxis3=xax(1053, 1459, m_rng, m_tickvals, m_ticktext, "y3"),
    yaxis3=yax(77, 270, [0, 12], [0, 4, 8, 12], pct([0, 4, 8, 12]), "x3"),
    yaxis7=yax(77, 270, [30, 60], [30, 40, 50, 60], ["$30k", "$40k", "$50k", "$60k"], "x3",
               side="right", grid=False, overlaying="y3"),
    xaxis4=xax(44, 447, m_rng, m_tickvals, m_ticktext, "y4"),
    yaxis4=yax(512, 719, [0, 12], [0, 4, 8, 12], pct([0, 4, 8, 12]), "x4"),
    yaxis8=yax(512, 719, [1.2, 4.8], [1.2, 2.4, 3.6, 4.8], ["$1.2k", "$2.4k", "$3.6k", "$4.8k"], "x4",
               side="right", grid=False, overlaying="y4"),
    xaxis5=xax(569, 989, m_rng, m_tickvals, m_ticktext, "y5"),
    yaxis5=yax(512, 776, [-0.075, 0.05], [-0.075, -0.05, -0.025, 0, 0.025, 0.05],
               ["-0.075%", "-0.05%", "-0.025%", "0%", "0.025%", "0.05%"], "x5"),
    xaxis6=xax(1066, 1491, m_rng, m_tickvals, m_ticktext, "y6"),
    yaxis6=yax(512, 775, [-0.1, 0.1], [-0.1, -0.05, 0, 0.05, 0.1],
               ["-0.1%", "-0.05%", "0%", "0.05%", "0.1%"], "x6"),
)

# ======================= FRAME / TITLES / LEGENDS =======================
shapes = []
annos = []


def rect(x0, y0, x1, y1, col):
    shapes.append(dict(type="rect", xref="paper", yref="paper", x0=fx(x0), x1=fx(x1), y0=fy(y1), y1=fy(y0),
                       fillcolor=col, line=dict(width=0), layer="below"))


rect(0, 0, 1506, 7, "white")
rect(8, 52, 1503, 435, "white")
rect(8, 489, 1503, 870, "white")
for (a, b) in [(8, 505), (510, 1003), (1008, 1503)]:
    rect(a, 10, b, 49, "#ebebeb")
    rect(a, 445, b, 486, "#ebebeb")
for (a, b) in [(498, 504), (1004, 1010)]:
    rect(a, 54, b, 433, "#ececec")
    rect(a, 491, b, 868, "#ececec")

titles = [("BTC Aggregate Open Interest, 1y", 256, 30), ("ETH Aggregate Open Interest, 1y", 757, 30),
          ("BTC Annlzd Rolling 3m Basis, 1m", 1255, 30), ("ETH Annlzd Rolling 3m Basis, 1m", 256, 466),
          ("BTC Perp Swaps Funding, 1m", 757, 466), ("ETH Perp Swaps Funding, 1m", 1255, 466)]
for t, cx, cy in titles:
    annos.append(dict(text=f"<b>{t}</b>", x=fx(cx), y=fy(cy), xref="paper", yref="paper", showarrow=False,
                      xanchor="center", yanchor="middle", font=dict(family="Roboto", size=26, color="#111111")))


def dot_legend(items, xs, ys):
    for i, (name, col) in enumerate(items):
        cx = xs[i % 6]
        cy = ys[i // 6]
        shapes.append(dict(type="circle", xref="paper", yref="paper", xsizemode="pixel", ysizemode="pixel",
                           xanchor=fx(cx), yanchor=fy(cy), x0=-3, x1=3, y0=-3, y1=3,
                           fillcolor=col, line=dict(width=0)))
        annos.append(dict(text=name, x=fx(cx + 12), y=fy(cy), xref="paper", yref="paper", showarrow=False,
                          xanchor="left", yanchor="middle", font=dict(family="Lato", size=12, color="#333333")))


dot_legend([("Bybit", "#6a1fb5"), ("Kraken", "#f0a030"), ("OKEx", "#21a55a"), ("Deribit", "#f24b4b"),
            ("CoinFlex", "#2d3436"), ("CME", "#f3c77a"), ("Binance", "#8b5e1a"), ("BitMEX", "#4a8af4"),
            ("Bitfinex", "#9ec0f8"), ("Huobi", "#9aa0a6"), ("FTX", "#6cc99b")],
           [20.7, 92.5, 163.5, 234.5, 305.5, 377.5], [394.5, 409.3])
dot_legend([("FTX", "#6cc99b"), ("Bybit", "#6a1fb5"), ("BitMEX", "#4a8af4"), ("Deribit", "#f24b4b"),
            ("OKEx", "#21a55a"), ("CoinFlex", "#f0a030"), ("Huobi", "#9aa0a6"), ("Binance", "#8b5e1a"),
            ("Kraken", "#f0a030"), ("Bitfinex", "#9ec0f8"), ("CME", "#f3c77a")],
           [523.7, 595.3, 666.3, 737.3, 808.7, 879.7], [394.5, 409.3])


def line_entry(x0, y, name, stats, col, tx):
    shapes.append(dict(type="line", xref="paper", yref="paper", x0=fx(x0), x1=fx(x0 + 13), y0=fy(y), y1=fy(y),
                       line=dict(color=col, width=2)))
    annos.append(dict(text=f"<span style='color:#333333'>{name}</span> <span style='color:#8a8a8a'>{stats}</span>",
                      x=fx(tx), y=fy(y), xref="paper", yref="paper", showarrow=False, xanchor="left",
                      yanchor="middle", font=dict(family="Lato", size=12, color="#8a8a8a")))


SW = dict(bitmex="#9dbdf7", ftx="#a9e0c3", deribit="#f7a0a0", binance="#c2a878", okex="#6fc48f",
          huobi="#cfd2d6", cme="#f8dcaa", spot="#666666", kraken="#f8cf8a", bybit="#a66fd9",
          bitfinex="#cfe0fb", huobi_eth="#f8d29a")
for k, (n, key) in enumerate([("BitMEX", "bitmex"), ("FTX", "ftx"), ("Deribit", "deribit"), ("Binance", "binance"),
                              ("OKEx", "okex"), ("Huobi", "huobi"), ("CME*", "cme"), ("BTC Spot Index", "spot")]):
    line_entry(1021.5, 310.7 + 13.95 * k, n, btc_basis_stats[k], SW[key], 1041)
for k, (n, key) in enumerate([("FTX", "ftx"), ("Deribit", "deribit"), ("Huobi", "huobi"), ("Binance", "binance"),
                              ("OKEx", "okex"), ("CME*", "cme"), ("ETH Spot Index", "spot")]):
    line_entry(12, 760 + 14 * k, n, eth_basis_stats[k], SW[key], 32.3)

btc_f_items = [("FTX", "ftx"), ("Huobi", "huobi"), ("BitMEX", "bitmex"), ("Kraken", "kraken"),
               ("Deribit", "deribit"), ("Bybit", "bybit"), ("Binance", "binance"), ("Bitfinex", "bitfinex"),
               ("OKEx", "okex")]
eth_f_items = [("Huobi", "huobi_eth"), ("BitMEX", "bitmex"), ("FTX", "ftx"), ("Kraken", "kraken"),
               ("Deribit", "deribit"), ("Bybit", "bybit"), ("Binance", "binance"), ("Bitfinex", "bitfinex"),
               ("OKEx", "okex")]
rows = [815, 829.2, 843.3]
for k, (n, key) in enumerate(btc_f_items):
    sx = [515, 657.5, 800][k % 3]
    line_entry(sx, rows[k // 3], n, btc_fund_avgs[k], SW[key], sx + 20)
for k, (n, key) in enumerate(eth_f_items):
    sx = [1019.5, 1160.5, 1302][k % 3]
    line_entry(sx, rows[k // 3], n, eth_fund_avgs[k], SW[key], sx + 20)

fig.update_layout(width=W, height=H, margin=dict(l=0, r=0, t=0, b=0, pad=0, autoexpand=False),
                  paper_bgcolor="black", plot_bgcolor="rgba(0,0,0,0)", showlegend=False, hovermode=False,
                  shapes=shapes, annotations=annos, **layout_axes)

fig.write_html("out.html", config={"displayModeBar": False},
               post_script="document.body.style.margin='0';document.body.style.overflow='hidden';")
